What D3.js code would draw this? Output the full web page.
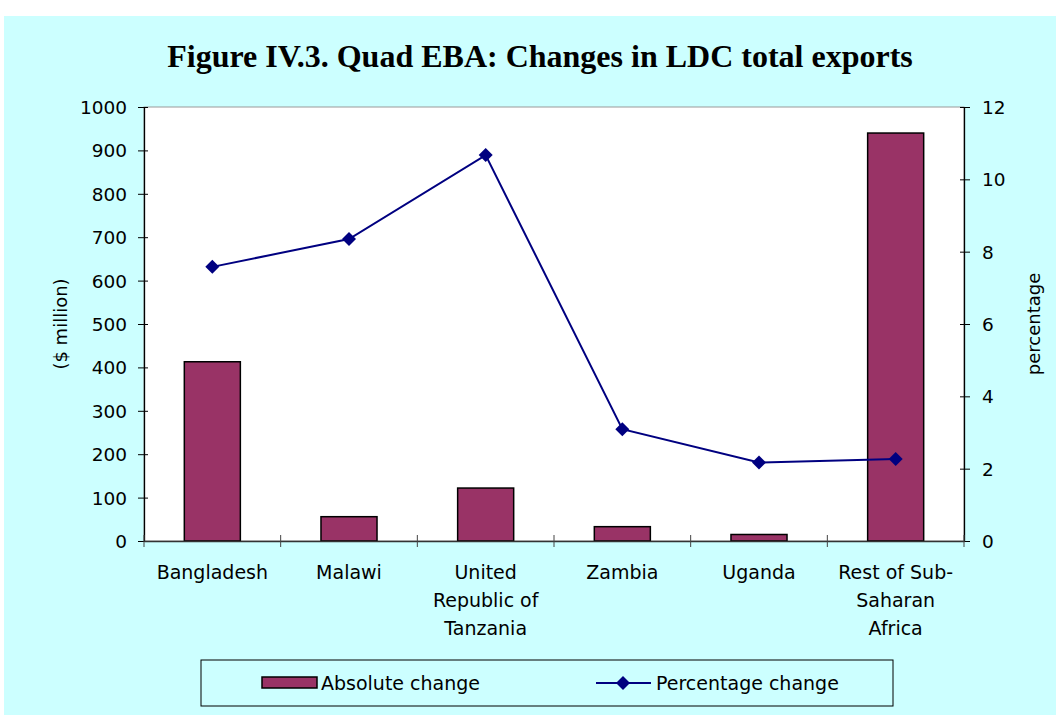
<!DOCTYPE html>
<html>
<head>
<meta charset="utf-8">
<script src="https://cdn.jsdelivr.net/npm/d3@7"></script>
<style>
  body { margin: 0; background: #fff; }
  text { font-family: "DejaVu Sans", Verdana, sans-serif; }
</style>
</head>
<body>
<div id="chart"></div>
<script>
// chart data
const countries = [["Bangladesh"], ["Malawi"], ["United", "Republic of", "Tanzania"], ["Zambia"], ["Uganda"], ["Rest of Sub-", "Saharan", "Africa"]];
const absoluteChange = [413, 56, 122, 33, 15, 940];
const percentChange = [7.58, 8.35, 10.67, 3.09, 2.17, 2.27];
const leftTicks = [0, 100, 200, 300, 400, 500, 600, 700, 800, 900, 1000];
const rightTicks = [0, 2, 4, 6, 8, 10, 12];

const W = 1056, H = 715;
const margin = {left: 144, right: 92, top: 107, bottom: 174};
const innerW = W - margin.left - margin.right;
const innerH = H - margin.top - margin.bottom;

const svg = d3.select("#chart").append("svg")
    .attr("width", W).attr("height", H);

// cyan backdrop
svg.append("rect").attr("x", 4).attr("y", 16).attr("width", W - 4).attr("height", H - 16)
    .attr("fill", "#ccffff");

svg.append("text")
    .attr("x", 540).attr("y", 67)
    .attr("text-anchor", "middle")
    .style("font-family", "'Liberation Serif', 'Times New Roman', serif")
    .style("font-weight", "bold")
    .style("font-size", "32px")
    .text("Figure IV.3. Quad EBA: Changes in LDC total exports");

const g = svg.append("g").attr("transform", `translate(${margin.left},${margin.top})`);

g.append("rect").attr("width", innerW).attr("height", innerH)
    .attr("fill", "#fff").attr("stroke", "#999").attr("stroke-width", 1);

const idx = countries.map((d, i) => i);
const x = d3.scaleBand().domain(idx).range([0, innerW]).paddingInner(0.59).paddingOuter(0.295);
const xPoint = d3.scaleBand().domain(idx).range([0, innerW]);
const yL = d3.scaleLinear().domain([0, 1000]).range([innerH, 0]);
const yR = d3.scaleLinear().domain([0, 12]).range([innerH, 0]);

// bars
g.selectAll(".bar").data(absoluteChange).join("rect")
    .attr("class", "bar")
    .attr("x", (d, i) => x(i))
    .attr("y", d => yL(d))
    .attr("width", x.bandwidth())
    .attr("height", d => innerH - yL(d))
    .attr("fill", "#993366")
    .attr("stroke", "#000").attr("stroke-width", 1.5);

// left axis
const axL = g.append("g").attr("class", "axis")
    .call(d3.axisLeft(yL).tickValues(leftTicks).tickFormat(d3.format("d")).tickSize(0));
axL.select(".domain").attr("stroke", "#000").attr("stroke-width", 1.3);
axL.selectAll(".tick line").attr("x1", -6).attr("x2", 4).attr("stroke", "#000");
axL.selectAll(".tick text").style("font-size", "18.5px").style("font-family", "'DejaVu Sans', sans-serif")
    .attr("fill", "#000").attr("dy", "0.35em").attr("x", -17);

// right axis
const axR = g.append("g").attr("class", "axis").attr("transform", `translate(${innerW},0)`)
    .call(d3.axisRight(yR).tickValues(rightTicks).tickSize(0));
axR.select(".domain").attr("stroke", "#000").attr("stroke-width", 1.3);
axR.selectAll(".tick line").attr("x1", -4).attr("x2", 6).attr("stroke", "#000");
axR.selectAll(".tick text").style("font-size", "18.5px").style("font-family", "'DejaVu Sans', sans-serif")
    .attr("fill", "#000").attr("dy", "0.35em").attr("x", 18);

// bottom axis
const axB = g.append("g").attr("transform", `translate(0,${innerH})`)
    .call(d3.axisBottom(xPoint).tickSize(0).tickFormat(""));
axB.select(".domain").attr("stroke", "#333").attr("stroke-width", 1.3);
axB.selectAll(".sep").data(d3.range(countries.length + 1)).join("line")
    .attr("class", "sep")
    .attr("x1", d => d * xPoint.step()).attr("x2", d => d * xPoint.step())
    .attr("y1", -6).attr("y2", 6).attr("stroke", "#444");

const labels = g.append("g").selectAll("text").data(countries).join("text")
    .attr("x", (d, i) => xPoint(i) + xPoint.bandwidth() / 2)
    .attr("y", innerH + 38)
    .attr("text-anchor", "middle")
    .style("font-size", "19px");
labels.selectAll("tspan").data(d => d).join("tspan")
    .attr("x", function() { return this.parentNode.getAttribute("x"); })
    .attr("dy", (d, i) => i === 0 ? 0 : 28)
    .text(d => d);

// axis titles
svg.append("text")
    .attr("transform", `translate(67,${margin.top + innerH / 2}) rotate(-90)`)
    .attr("text-anchor", "middle")
    .style("font-size", "18px")
    .text("($ million)");
svg.append("text")
    .attr("transform", `translate(1040,${margin.top + innerH / 2}) rotate(-90)`)
    .attr("text-anchor", "middle")
    .style("font-size", "18px")
    .text("percentage");

// line
const lineGen = d3.line()
    .x((d, i) => xPoint(i) + xPoint.bandwidth() / 2)
    .y(d => yR(d));
g.append("path").datum(percentChange)
    .attr("d", lineGen)
    .attr("fill", "none").attr("stroke", "#000080").attr("stroke-width", 2);
g.selectAll(".pt").data(percentChange).join("path")
    .attr("class", "pt")
    .attr("transform", (d, i) => `translate(${xPoint(i) + xPoint.bandwidth() / 2},${yR(d)})`)
    .attr("d", "M0,-7L7,0L0,7L-7,0Z")
    .attr("fill", "#000080");

// legend
const leg = svg.append("g").attr("transform", "translate(201,660)");
leg.append("rect").attr("width", 692).attr("height", 46)
    .attr("fill", "none").attr("stroke", "#000").attr("stroke-width", 1);
leg.append("rect").attr("x", 61).attr("y", 17).attr("width", 55).attr("height", 11)
    .attr("fill", "#993366").attr("stroke", "#000").attr("stroke-width", 1.5);
leg.append("text").attr("x", 120).attr("y", 30).style("font-size", "19px").text("Absolute change");
leg.append("line").attr("x1", 395).attr("x2", 450).attr("y1", 23).attr("y2", 23)
    .attr("stroke", "#000080").attr("stroke-width", 2);
leg.append("path").attr("transform", "translate(422,23)").attr("d", "M0,-7L7,0L0,7L-7,0Z").attr("fill", "#000080");
leg.append("text").attr("x", 455).attr("y", 30).style("font-size", "19px").text("Percentage change");
</script>
</body>
</html>
